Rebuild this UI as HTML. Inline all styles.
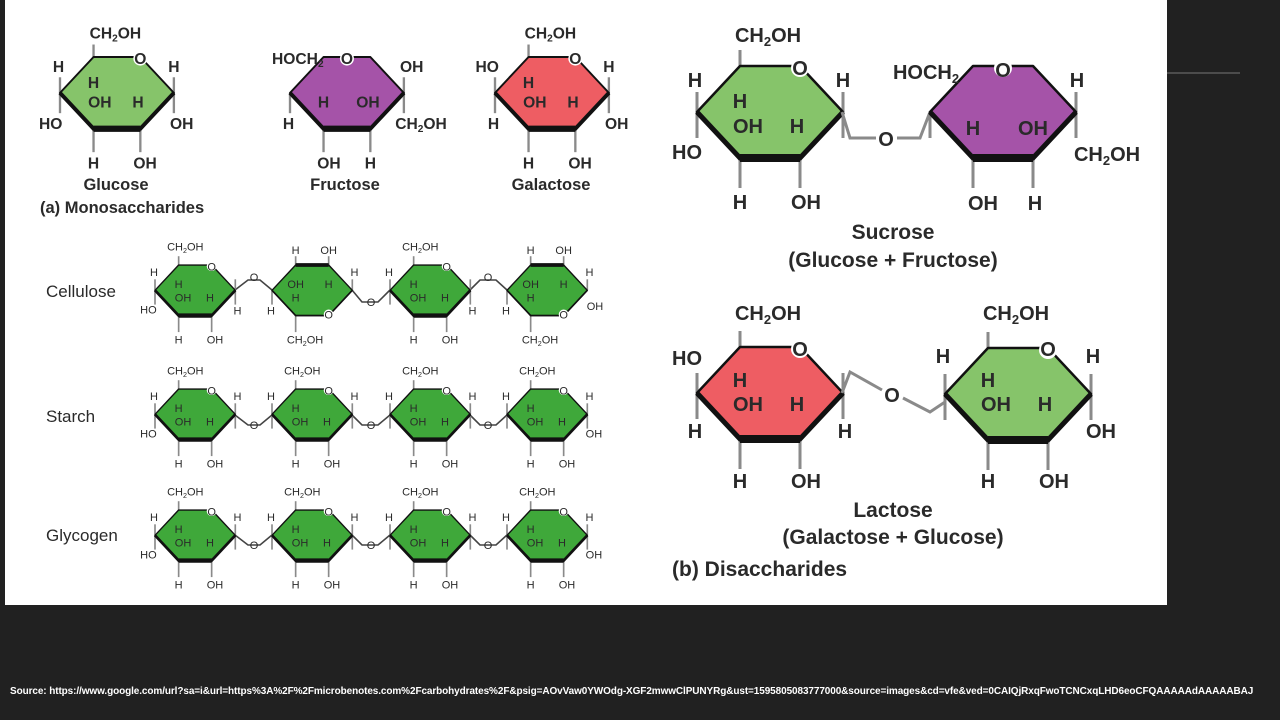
<!DOCTYPE html>
<html><head><meta charset="utf-8"><style>
html,body{margin:0;padding:0;background:#212121;width:1280px;height:720px;overflow:hidden}
svg{position:absolute;left:0;top:0}
.b{font-family:"Liberation Sans",sans-serif;font-weight:bold;fill:#2a2a2a;text-anchor:middle}
.s{font-family:"Liberation Sans",sans-serif;fill:#2a2a2a;text-anchor:middle}
.src{position:absolute;left:10px;top:686px;color:#fff;font:bold 10px "Liberation Sans",sans-serif;white-space:nowrap;letter-spacing:-0.1px}
</style></head><body>
<svg width="1280" height="720" viewBox="0 0 1280 720">
<defs>
<g id="hx">
<g stroke="#8a8a8a" stroke-width="3">
<line x1="43" y1="0" x2="43" y2="-16"/><line x1="0" y1="46" x2="0" y2="26"/><line x1="0" y1="46" x2="0" y2="72"/>
<line x1="43" y1="92" x2="43" y2="122"/><line x1="103" y1="92" x2="103" y2="122"/>
<line x1="146" y1="46" x2="146" y2="26"/><line x1="146" y1="46" x2="146" y2="72"/>
</g>
<polygon points="0,46 43,0 103,0 146,46 103,92 43,92" stroke="#111" stroke-width="2.5" stroke-linejoin="round"/>
<polyline points="0,46 43,92 103,92 146,46" fill="none" stroke="#111" stroke-width="5"/>
<line x1="43" y1="92" x2="103" y2="92" stroke="#111" stroke-width="8"/>
<circle cx="103" cy="2" r="9" fill="#fff"/>
</g>
<g id="hf">
<g stroke="#8a8a8a" stroke-width="3">
<line x1="43" y1="92" x2="43" y2="122"/><line x1="103" y1="92" x2="103" y2="122"/>
<line x1="146" y1="46" x2="146" y2="26"/><line x1="146" y1="46" x2="146" y2="72"/><line x1="0" y1="46" x2="0" y2="72"/>
</g>
<polygon points="0,46 43,0 103,0 146,46 103,92 43,92" stroke="#111" stroke-width="2.5" stroke-linejoin="round"/>
<polyline points="0,46 43,92 103,92 146,46" fill="none" stroke="#111" stroke-width="5"/>
<line x1="43" y1="92" x2="103" y2="92" stroke="#111" stroke-width="8"/>
<circle cx="73" cy="2" r="9" fill="#fff"/>
</g>
<g id="hn">
<g stroke="#8a8a8a" stroke-width="3">
<line x1="43" y1="0" x2="43" y2="-16"/><line x1="103" y1="0" x2="103" y2="-16"/>
<line x1="43" y1="92" x2="43" y2="122"/>
<line x1="146" y1="46" x2="146" y2="26"/><line x1="0" y1="46" x2="0" y2="72"/>
</g>
<polygon points="0,46 43,0 103,0 146,46 103,92 43,92" stroke="#111" stroke-width="2.5" stroke-linejoin="round"/>
<polyline points="0,46 43,92 103,92 146,46" fill="none" stroke="#111" stroke-width="3"/>
<line x1="43" y1="0" x2="103" y2="0" stroke="#111" stroke-width="7"/>
<circle cx="103" cy="90" r="9" fill="#fff"/>
</g>
</defs>
<rect x="5" y="0" width="1162" height="605" fill="#fff"/>
<line x1="1167" y1="73" x2="1240" y2="73" stroke="#777" stroke-width="1"/>

<!-- Monosaccharides -->
<g transform="translate(60,57) scale(0.78)" class="b" font-size="20">
<use href="#hx" fill="#86c46a"/>
<text x="71" y="-24">CH<tspan font-size="13" dy="4">2</tspan><tspan dy="-4">OH</tspan></text>
<text x="103" y="9">O</text><text x="-2" y="19">H</text><text x="-12" y="92">HO</text>
<text x="43" y="40">H</text><text x="51" y="65">OH</text><text x="100" y="65">H</text>
<text x="146" y="19">H</text><text x="156" y="92">OH</text><text x="43" y="143">H</text><text x="109" y="143">OH</text>
</g>
<g transform="translate(290,57) scale(0.78)" class="b" font-size="20">
<use href="#hf" fill="#a553a8"/>
<text x="10" y="9">HOCH<tspan font-size="13" dy="4">2</tspan></text>
<text x="73" y="9">O</text><text x="-2" y="92">H</text>
<text x="43" y="65">H</text><text x="100" y="65">OH</text>
<text x="156" y="19">OH</text><text x="168" y="92">CH<tspan font-size="13" dy="4">2</tspan><tspan dy="-4">OH</tspan></text>
<text x="50" y="143">OH</text><text x="103" y="143">H</text>
</g>
<g transform="translate(495,57) scale(0.78)" class="b" font-size="20">
<use href="#hx" fill="#ee5d63"/>
<text x="71" y="-24">CH<tspan font-size="13" dy="4">2</tspan><tspan dy="-4">OH</tspan></text>
<text x="103" y="9">O</text><text x="-10" y="19">HO</text><text x="-2" y="92">H</text>
<text x="43" y="40">H</text><text x="51" y="65">OH</text><text x="100" y="65">H</text>
<text x="146" y="19">H</text><text x="156" y="92">OH</text><text x="43" y="143">H</text><text x="109" y="143">OH</text>
</g>
<g class="b" font-size="16.5">
<text x="116" y="190">Glucose</text><text x="345" y="190">Fructose</text><text x="551" y="190">Galactose</text>
<text x="40" y="213" style="text-anchor:start">(a) Monosaccharides</text>
</g>

<!-- Sucrose -->
<g transform="translate(697,66)" class="b" font-size="20">
<use href="#hx" fill="#86c46a"/>
<text x="71" y="-24">CH<tspan font-size="13" dy="4">2</tspan><tspan dy="-4">OH</tspan></text>
<text x="103" y="9">O</text><text x="-2" y="21">H</text><text x="-10" y="93">HO</text>
<text x="43" y="42">H</text><text x="51" y="67">OH</text><text x="100" y="67">H</text>
<text x="146" y="21">H</text><text x="43" y="143">H</text><text x="109" y="143">OH</text>
</g>
<polyline points="842,112 850,138 876,138" fill="none" stroke="#8a8a8a" stroke-width="3"/>
<polyline points="897,138 920,138 930,112" fill="none" stroke="#8a8a8a" stroke-width="3"/>
<text x="886" y="146" class="b" font-size="20">O</text>
<g transform="translate(930,66)" class="b" font-size="20">
<use href="#hf" fill="#a553a8"/>
<text x="-4" y="13">HOCH<tspan font-size="13" dy="4">2</tspan></text>
<text x="73" y="11">O</text>
<text x="43" y="69">H</text><text x="103" y="69">OH</text>
<text x="147" y="21">H</text><text x="177" y="95">CH<tspan font-size="13" dy="4">2</tspan><tspan dy="-4">OH</tspan></text>
<text x="53" y="144">OH</text><text x="105" y="144">H</text>
</g>
<g class="b" font-size="21">
<text x="893" y="239">Sucrose</text><text x="893" y="267">(Glucose + Fructose)</text>
</g>

<!-- Lactose -->
<g transform="translate(697,347)" class="b" font-size="20">
<use href="#hx" fill="#ee5d63"/>
<text x="71" y="-27">CH<tspan font-size="13" dy="4">2</tspan><tspan dy="-4">OH</tspan></text>
<text x="103" y="9">O</text><text x="-10" y="18">HO</text><text x="-2" y="91">H</text>
<text x="43" y="40">H</text><text x="51" y="64">OH</text><text x="100" y="64">H</text>
<text x="148" y="91">H</text><text x="43" y="141">H</text><text x="109" y="141">OH</text>
</g>
<polyline points="842,393 850,372 882,390" fill="none" stroke="#8a8a8a" stroke-width="3"/>
<polyline points="903,398 930,412 945,402 945,393" fill="none" stroke="#8a8a8a" stroke-width="3"/>
<text x="892" y="402" class="b" font-size="20">O</text>
<g transform="translate(945,348)" class="b" font-size="20">
<use href="#hx" fill="#86c46a"/>
<text x="71" y="-28">CH<tspan font-size="13" dy="4">2</tspan><tspan dy="-4">OH</tspan></text>
<text x="103" y="8">O</text><text x="-2" y="15">H</text>
<text x="43" y="39">H</text><text x="51" y="63">OH</text><text x="100" y="63">H</text>
<text x="148" y="15">H</text><text x="156" y="90">OH</text><text x="43" y="140">H</text><text x="109" y="140">OH</text>
</g>
<g class="b" font-size="21">
<text x="893" y="517">Lactose</text><text x="893" y="544">(Galactose + Glucose)</text>
<text x="672" y="576" style="text-anchor:start">(b) Disaccharides</text>
</g>

<!-- Chains -->
<g class="s" font-size="17" style="text-anchor:start">
<text x="46" y="297">Cellulose</text><text x="46" y="422">Starch</text><text x="46" y="541">Glycogen</text>
</g>
<g fill="none" stroke="#444" stroke-width="1.6">
<polyline points="235,290 248,280 260,280 272,290"/>
<polyline points="352,290 362,302 378,302 390,290"/>
<polyline points="470,290 480,280 496,280 507,290"/>
<polyline points="235,415 248,425 260,425 272,415"/>
<polyline points="352,415 362,425 378,425 390,415"/>
<polyline points="470,415 480,425 496,425 507,415"/>
<polyline points="235,535 248,545 260,545 272,535"/>
<polyline points="352,535 362,545 378,545 390,535"/>
<polyline points="470,535 480,545 496,545 507,535"/>
</g>
<g class="s" font-size="11">
<text x="254" y="281">O</text><text x="371" y="306">O</text><text x="488" y="281">O</text>
<text x="254" y="429">O</text><text x="371" y="429">O</text><text x="488" y="429">O</text>
<text x="254" y="549">O</text><text x="371" y="549">O</text><text x="488" y="549">O</text>
</g>
<!-- chain hexagons -->
<g class="s" font-size="20">
<g transform="translate(155,265) scale(0.55)"><use href="#hx" fill="#3fa83a"/><text x="55" y="-26">CH<tspan font-size="13" dy="4">2</tspan><tspan dy="-4">OH</tspan></text><text x="-2" y="20">H</text><text x="-12" y="88">HO</text><text x="43" y="42">H</text><text x="51" y="66">OH</text><text x="100" y="66">H</text><text x="103" y="10">O</text><text x="43" y="143">H</text><text x="109" y="143">OH</text><text x="150" y="90">H</text></g>
<g transform="translate(272,265) scale(0.55)"><use href="#hn" fill="#3fa83a"/><text x="43" y="-20">H</text><text x="103" y="-20">OH</text><text x="43" y="42">OH</text><text x="103" y="42">H</text><text x="43" y="66">H</text><text x="-2" y="90">H</text><text x="150" y="20">H</text><text x="103" y="97">O</text><text x="60" y="143">CH<tspan font-size="13" dy="4">2</tspan><tspan dy="-4">OH</tspan></text></g>
<g transform="translate(390,265) scale(0.55)"><use href="#hx" fill="#3fa83a"/><text x="55" y="-26">CH<tspan font-size="13" dy="4">2</tspan><tspan dy="-4">OH</tspan></text><text x="-2" y="20">H</text><text x="43" y="42">H</text><text x="51" y="66">OH</text><text x="100" y="66">H</text><text x="103" y="10">O</text><text x="43" y="143">H</text><text x="109" y="143">OH</text><text x="150" y="90">H</text></g>
<g transform="translate(507,265) scale(0.55)"><use href="#hn" fill="#3fa83a"/><text x="43" y="-20">H</text><text x="103" y="-20">OH</text><text x="43" y="42">OH</text><text x="103" y="42">H</text><text x="43" y="66">H</text><text x="-2" y="90">H</text><text x="150" y="20">H</text><text x="160" y="82">OH</text><text x="103" y="97">O</text><text x="60" y="143">CH<tspan font-size="13" dy="4">2</tspan><tspan dy="-4">OH</tspan></text></g>

<g transform="translate(155,389) scale(0.55)"><use href="#hx" fill="#3fa83a"/><text x="55" y="-26">CH<tspan font-size="13" dy="4">2</tspan><tspan dy="-4">OH</tspan></text><text x="-2" y="20">H</text><text x="-12" y="88">HO</text><text x="43" y="42">H</text><text x="51" y="66">OH</text><text x="100" y="66">H</text><text x="103" y="10">O</text><text x="150" y="20">H</text><text x="43" y="143">H</text><text x="109" y="143">OH</text></g>
<g transform="translate(272,389) scale(0.55)"><use href="#hx" fill="#3fa83a"/><text x="55" y="-26">CH<tspan font-size="13" dy="4">2</tspan><tspan dy="-4">OH</tspan></text><text x="-2" y="20">H</text><text x="43" y="42">H</text><text x="51" y="66">OH</text><text x="100" y="66">H</text><text x="103" y="10">O</text><text x="150" y="20">H</text><text x="43" y="143">H</text><text x="109" y="143">OH</text></g>
<g transform="translate(390,389) scale(0.55)"><use href="#hx" fill="#3fa83a"/><text x="55" y="-26">CH<tspan font-size="13" dy="4">2</tspan><tspan dy="-4">OH</tspan></text><text x="-2" y="20">H</text><text x="43" y="42">H</text><text x="51" y="66">OH</text><text x="100" y="66">H</text><text x="103" y="10">O</text><text x="150" y="20">H</text><text x="43" y="143">H</text><text x="109" y="143">OH</text></g>
<g transform="translate(507,389) scale(0.55)"><use href="#hx" fill="#3fa83a"/><text x="55" y="-26">CH<tspan font-size="13" dy="4">2</tspan><tspan dy="-4">OH</tspan></text><text x="-2" y="20">H</text><text x="43" y="42">H</text><text x="51" y="66">OH</text><text x="100" y="66">H</text><text x="103" y="10">O</text><text x="150" y="20">H</text><text x="158" y="88">OH</text><text x="43" y="143">H</text><text x="109" y="143">OH</text></g>

<g transform="translate(155,510) scale(0.55)"><use href="#hx" fill="#3fa83a"/><text x="55" y="-26">CH<tspan font-size="13" dy="4">2</tspan><tspan dy="-4">OH</tspan></text><text x="-2" y="20">H</text><text x="-12" y="88">HO</text><text x="43" y="42">H</text><text x="51" y="66">OH</text><text x="100" y="66">H</text><text x="103" y="10">O</text><text x="150" y="20">H</text><text x="43" y="143">H</text><text x="109" y="143">OH</text></g>
<g transform="translate(272,510) scale(0.55)"><use href="#hx" fill="#3fa83a"/><text x="55" y="-26">CH<tspan font-size="13" dy="4">2</tspan><tspan dy="-4">OH</tspan></text><text x="-2" y="20">H</text><text x="43" y="42">H</text><text x="51" y="66">OH</text><text x="100" y="66">H</text><text x="103" y="10">O</text><text x="150" y="20">H</text><text x="43" y="143">H</text><text x="109" y="143">OH</text></g>
<g transform="translate(390,510) scale(0.55)"><use href="#hx" fill="#3fa83a"/><text x="55" y="-26">CH<tspan font-size="13" dy="4">2</tspan><tspan dy="-4">OH</tspan></text><text x="-2" y="20">H</text><text x="43" y="42">H</text><text x="51" y="66">OH</text><text x="100" y="66">H</text><text x="103" y="10">O</text><text x="150" y="20">H</text><text x="43" y="143">H</text><text x="109" y="143">OH</text></g>
<g transform="translate(507,510) scale(0.55)"><use href="#hx" fill="#3fa83a"/><text x="55" y="-26">CH<tspan font-size="13" dy="4">2</tspan><tspan dy="-4">OH</tspan></text><text x="-2" y="20">H</text><text x="43" y="42">H</text><text x="51" y="66">OH</text><text x="100" y="66">H</text><text x="103" y="10">O</text><text x="150" y="20">H</text><text x="158" y="88">OH</text><text x="43" y="143">H</text><text x="109" y="143">OH</text></g>
</g>
</svg>
<div class="src">Source: https://www.google.com/url?sa=i&amp;url=https%3A%2F%2Fmicrobenotes.com%2Fcarbohydrates%2F&amp;psig=AOvVaw0YWOdg-XGF2mwwClPUNYRg&amp;ust=1595805083777000&amp;source=images&amp;cd=vfe&amp;ved=0CAIQjRxqFwoTCNCxqLHD6eoCFQAAAAAdAAAAABAJ</div>
</body></html>
